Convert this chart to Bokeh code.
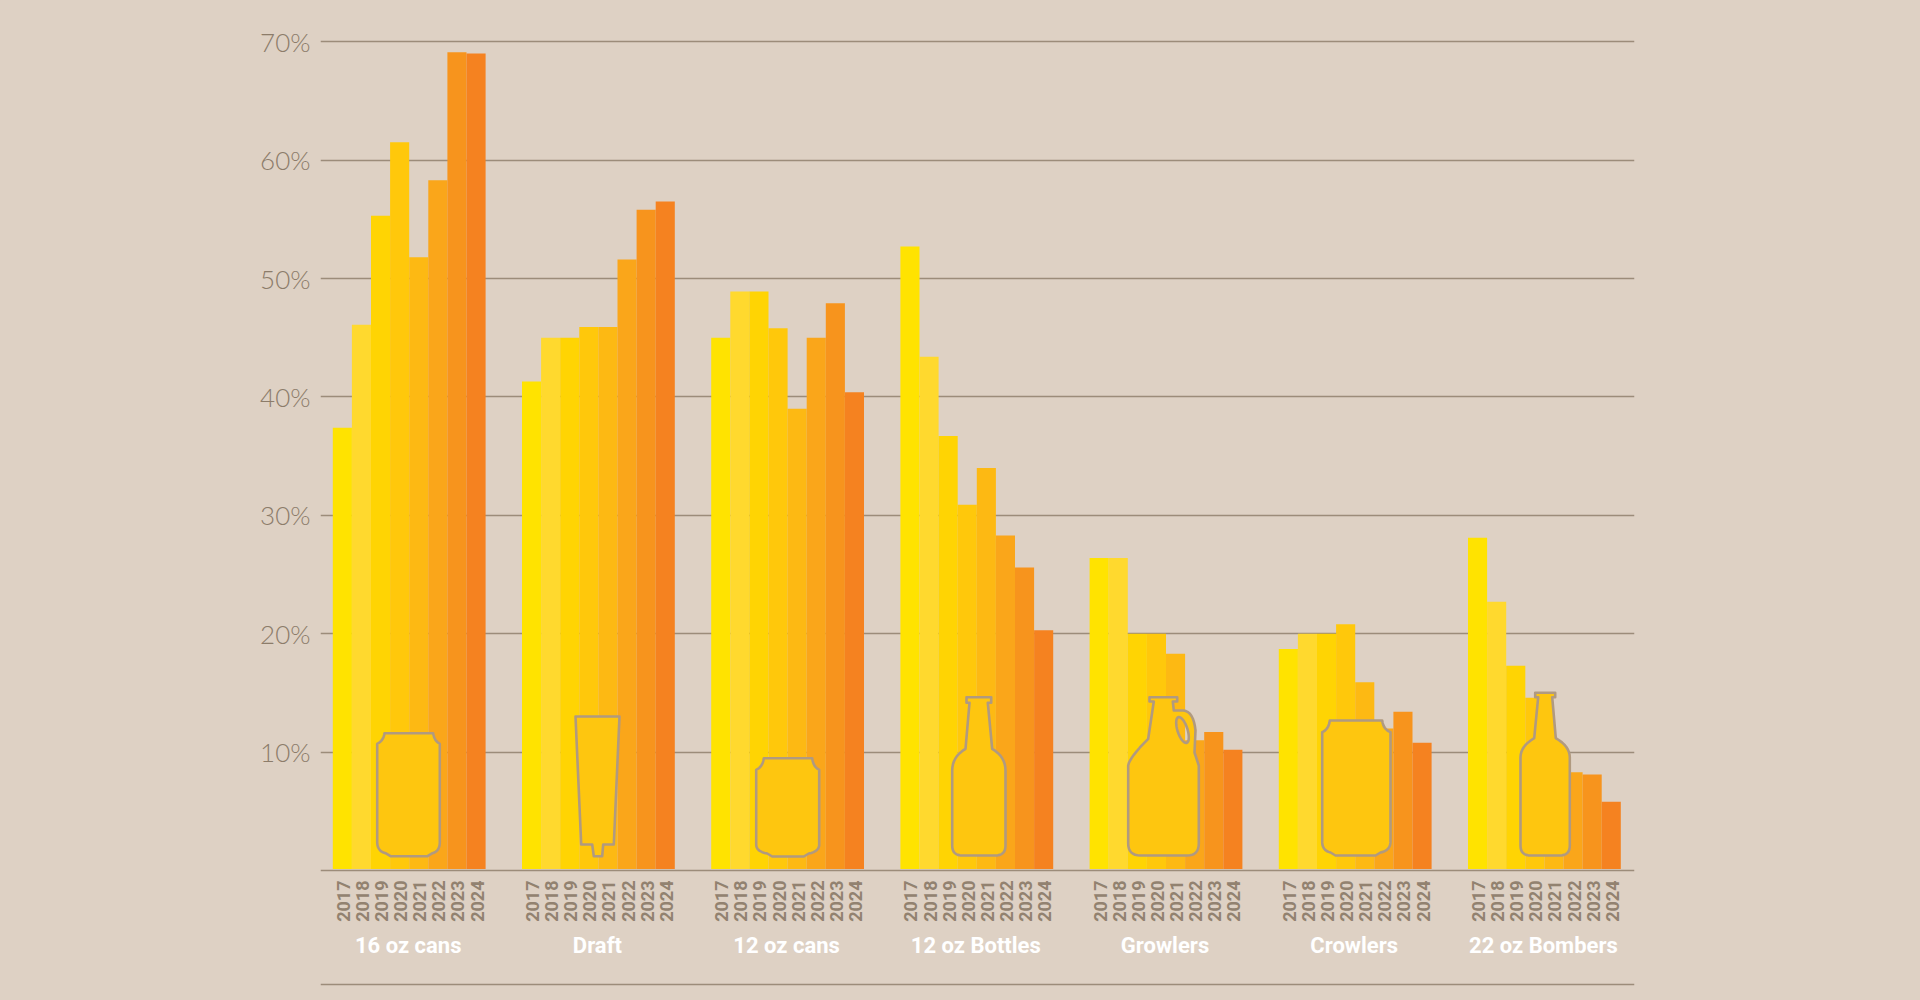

import math
from bokeh.plotting import figure
from bokeh.models import Range1d, FixedTicker, ColumnDataSource, LinearAxis
from bokeh.core.properties import value
from bokeh.embed import file_html
from bokeh.resources import INLINE

years = ["2017", "2018", "2019", "2020", "2021", "2022", "2023", "2024"]
groups = ["16 oz cans", "Draft", "12 oz cans", "12 oz Bottles", "Growlers", "Crowlers", "22 oz Bombers"]
cans16 = [37.4, 46.1, 55.3, 61.5, 51.8, 58.3, 69.1, 69.0]
draft = [41.3, 45.0, 45.0, 45.9, 45.9, 51.6, 55.8, 56.5]
cans12 = [45.0, 48.9, 48.9, 45.8, 39.0, 45.0, 47.9, 40.4]
bottles12 = [52.7, 43.4, 36.7, 30.9, 34.0, 28.3, 25.6, 20.3]
growlers = [26.4, 26.4, 20.0, 20.0, 18.3, 11.0, 11.7, 10.2]
crowlers = [18.7, 20.0, 20.0, 20.8, 15.9, 12.0, 13.4, 10.8]
bombers = [28.1, 22.7, 17.3, 14.6, 10.5, 8.3, 8.1, 5.8]
series = [cans16, draft, cans12, bottles12, growlers, crowlers, bombers]
y_ticks = [10, 20, 30, 40, 50, 60, 70]
y_labels = ["10%", "20%", "30%", "40%", "50%", "60%", "70%"]

BG = "#DED1C4"
LINE = "#9C8C7A"
TXT = "#928270"
colors = ["#FFE300", "#FFD92E", "#FFD403", "#FFC80B", "#FDB913", "#FAA61A", "#F7941D", "#F58220"]
ICON_FILL = "#FEC60F"
ICON_LINE = "#B09A80"

W, H = 1920, 1000
PX_L, PX_R = 320.0, 1634.0      # page px of frame edges
BAR_PX = 19.1
SLOT0 = 332.3
STEP = 189.2 / BAR_PX
PX_PER_UNIT = 11.84
BASE = 870.0


def slot(px):
    return (px - SLOT0) / BAR_PX


p = figure(width=W, height=H, output_backend="svg", toolbar_location=None,
           x_range=Range1d(slot(PX_L), slot(PX_R)),
           y_range=Range1d((BASE - 1000) / PX_PER_UNIT, BASE / PX_PER_UNIT),
           background_fill_color=None, border_fill_color=BG,
           min_border_left=320, min_border_right=286, min_border_top=0, min_border_bottom=0,
           y_axis_location=None, x_axis_location=None)
p.outline_line_color = None
p.extra_x_ranges = {"px": Range1d(PX_L, PX_R)}
p.extra_y_ranges = {"px": Range1d(1000, 0)}

ax = LinearAxis(ticker=FixedTicker(ticks=y_ticks),
                major_label_overrides={t: l for t, l in zip(y_ticks, y_labels)})
ax.axis_line_color = None
ax.major_tick_line_color = None
ax.minor_tick_line_color = None
ax.major_label_standoff = 4
ax.major_label_text_font = "Lato Light"
ax.major_label_text_font_size = "26px"
ax.major_label_text_color = "#8C7C6A"
p.add_layout(ax, "left")

grid_ticks = [0] + y_ticks + [(BASE - 984) / PX_PER_UNIT]
p.ygrid.ticker = FixedTicker(ticks=grid_ticks)
p.ygrid.grid_line_color = LINE
p.ygrid.grid_line_width = 1.6
p.xgrid.grid_line_color = None

xs, tops, cols, yrs = [], [], [], []
for g, vals in enumerate(series):
    for i, v in enumerate(vals):
        xs.append(g * STEP + i + 0.5)
        tops.append(v)
        cols.append(colors[i])
        yrs.append(years[i])
src = ColumnDataSource(dict(x=xs, top=tops, color=cols, year=yrs, zero=[0.0] * len(xs)))
p.vbar(x="x", top="top", bottom=0.12, width=1.0, fill_color="color", line_color=None, source=src)

p.text(x="x", y="zero", text="year", source=src, angle=math.pi / 2,
       text_align="right", text_baseline="middle",
       x_offset=1.0, y_offset=10,
       text_font=value("Roboto"), text_font_style="bold",
       text_font_size="18px", text_color=TXT)

gsrc = ColumnDataSource(dict(x=[g * STEP + 4 for g in range(7)], y=[0.0] * 7, t=groups))
p.text(x="x", y="y", text="t", source=gsrc, text_align="center", text_baseline="middle",
       x_offset=-1, y_offset=75, text_font=value("Roboto"), text_font_style="bold",
       text_font_size="22px", text_color="#FFFFFF")


# ---------- pictograms (page-pixel outlines, decoration only) ----------
def q(p0, c, p1, n=8):
    out = []
    for k in range(1, n + 1):
        t = k / n
        out.append(((1 - t) ** 2 * p0[0] + 2 * t * (1 - t) * c[0] + t * t * p1[0],
                    (1 - t) ** 2 * p0[1] + 2 * t * (1 - t) * c[1] + t * t * p1[1]))
    return out


def can(x0, x1, top, bot, tx0, tx1, sh, bx0, bx1, bh):
    pts = [(tx0, top), (tx1, top)]
    pts += q((tx1, top), (tx1 + 1, sh - 3), (x1, sh))
    pts.append((x1, bh))
    pts += q((x1, bh), (x1 + 0.5, bot - 5), (bx1 + 5, bot - 3))
    pts.append((bx1, bot))
    pts.append((bx0, bot))
    pts.append((bx0 - 5, bot - 3))
    pts += q((bx0 - 5, bot - 3), (x0 - 0.5, bot - 5), (x0, bh))
    pts.append((x0, sh))
    pts += q((x0, sh), (tx0 - 1, sh - 3), (tx0, top))
    return pts


def bottle(capx0, capx1, capy0, capy1, nt0, nt1, nb0, nb1, nby, x0, x1, sy, bot):
    r = 10
    pts = [(capx0, capy0), (capx1, capy0), (capx1, capy1), (nt1, capy1), (nb1, nby)]
    pts += q((nb1, nby), (x1, nby + 8), (x1, sy))
    pts.append((x1, bot - r))
    pts += q((x1, bot - r), (x1, bot), (x1 - r, bot))
    pts.append((x0 + r, bot))
    pts += q((x0 + r, bot), (x0, bot), (x0, bot - r))
    pts.append((x0, sy))
    pts += q((x0, sy), (x0, nby + 8), (nb0, nby))
    pts += [(nt0, capy1), (capx0, capy1)]
    return pts


can16 = can(376.7, 439.3, 732.7, 855.7, 384, 432.7, 743.3, 390, 427, 840)
can12 = can(755.7, 818.7, 757.7, 856, 763.3, 811.7, 769.3, 771.7, 803.3, 843.3)
crowler = can(1321.7, 1390, 720, 855, 1329.3, 1381.7, 731.7, 1335, 1375, 840)
tap = [(575, 716), (619, 716), (613.3, 844), (602.7, 844), (601.7, 855.7),
       (593.3, 855.7), (591.7, 844), (580.7, 844)]
bot12 = bottle(966, 990.7, 696.7, 702.3, 969, 987.3, 965, 991.7, 748.3, 951.7, 1005, 770, 855)
bot22 = bottle(1534.7, 1554.7, 692.3, 696.7, 1537.7, 1551.7, 1533.7, 1555.3, 737.7, 1520, 1569.3, 757, 855)

grow = [(1149, 696.7), (1176.7, 696.7), (1176.7, 701), (1172.3, 701), (1173.3, 710), (1183, 710)]
grow += q((1183, 710), (1193, 711), (1195, 730))
grow += [(1194, 752), (1198.3, 765), (1198.3, 843)]
grow += q((1198.3, 843), (1198.3, 855), (1186.7, 855))
grow += [(1140, 855)]
grow += q((1140, 855), (1127.7, 855), (1127.7, 843))
grow += [(1127.7, 765)]
grow += q((1127.7, 765), (1129, 757), (1147.7, 738.3))
grow += [(1153.3, 701), (1149, 701)]

hole = []
for k in range(32):
    a = 2 * math.pi * k / 32
    u, v = 13.5 * math.cos(a), 5.0 * math.sin(a)
    th = math.radians(72)
    hole.append((1182 + u * math.cos(th) - v * math.sin(th), 729.5 + u * math.sin(th) + v * math.cos(th)))


def draw(outer, holes=()):
    p.multi_polygons(
        xs=[[[[a for a, _ in outer]] + [[a for a, _ in h] for h in holes]]],
        ys=[[[[b for _, b in outer]] + [[b for _, b in h] for h in holes]]],
        x_range_name="px", y_range_name="px",
        fill_color=ICON_FILL, line_color=ICON_LINE, line_width=2.6, line_join="round")


for shape in [can16, tap, can12, bot12, crowler, bot22]:
    draw(shape)
draw(grow, [hole])

html = file_html(p, INLINE)
html = html.replace("<head>", "<head><style>html,body{background:%s;overflow:hidden}</style>" % BG, 1)
open("out.html", "w").write(html)
